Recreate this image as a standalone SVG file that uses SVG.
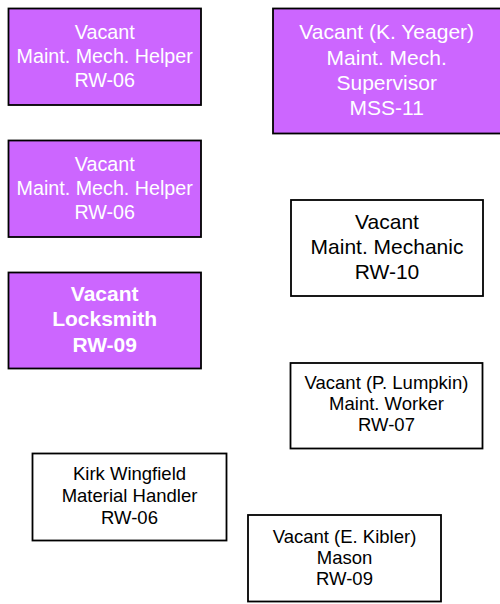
<svg xmlns="http://www.w3.org/2000/svg" width="500" height="604" viewBox="0 0 500 604">
<style>
.box{stroke:#000;stroke-width:1.8}
.p{fill:#CC66FF}
.w{fill:#FFFFFF}
text{font-family:"Liberation Sans",Arial,sans-serif;text-anchor:middle}
.tw{fill:#FFFFFF}
.tb{fill:#000000}
.b{font-weight:bold}
</style>
<rect width="500" height="604" fill="#FFFFFF"/>
<g id="connectors"></g>
<g id="helper1">
<rect class="box p" x="8.5" y="8.5" width="192.5" height="96.5"/>
<text class="tw" font-size="19.7"><tspan x="104.7" y="39.3">Vacant</tspan><tspan x="104.7" y="63">Maint. Mech. Helper</tspan><tspan x="104.7" y="87">RW-06</tspan></text>
</g>
<g id="helper2">
<rect class="box p" x="8.5" y="140.5" width="192.5" height="96.5"/>
<text class="tw" font-size="19.7"><tspan x="104.7" y="171.3">Vacant</tspan><tspan x="104.7" y="195">Maint. Mech. Helper</tspan><tspan x="104.7" y="219">RW-06</tspan></text>
</g>
<g id="locksmith">
<rect class="box p" x="8.5" y="272.5" width="192.5" height="96"/>
<text class="tw b" font-size="21"><tspan x="104.7" y="301.2">Vacant</tspan><tspan x="104.7" y="326.4">Locksmith</tspan><tspan x="104.7" y="351.7">RW-09</tspan></text>
</g>
<g id="supervisor">
<rect class="box p" x="273" y="8.5" width="232" height="125"/>
<text class="tw" font-size="21"><tspan x="386.7" y="39.3">Vacant (K. Yeager)</tspan><tspan x="386.7" y="64.5">Maint. Mech.</tspan><tspan x="386.7" y="89.8">Supervisor</tspan><tspan x="386.7" y="115">MSS-11</tspan></text>
</g>
<g id="mechanic">
<rect class="box w" x="291" y="200" width="192" height="96"/>
<text class="tb" font-size="21"><tspan x="387" y="229.3">Vacant</tspan><tspan x="387" y="254.3">Maint. Mechanic</tspan><tspan x="387" y="279">RW-10</tspan></text>
</g>
<g id="worker">
<rect class="box w" x="290.5" y="363" width="192" height="85.5"/>
<text class="tb" font-size="18.5"><tspan x="386.5" y="389">Vacant (P. Lumpkin)</tspan><tspan x="386.5" y="410">Maint. Worker</tspan><tspan x="386.5" y="431">RW-07</tspan></text>
</g>
<g id="handler">
<rect class="box w" x="32.5" y="453.5" width="194" height="87"/>
<text class="tb" font-size="18.5"><tspan x="129.5" y="480">Kirk Wingfield</tspan><tspan x="129.5" y="501.7">Material Handler</tspan><tspan x="129.5" y="523.5">RW-06</tspan></text>
</g>
<g id="mason">
<rect class="box w" x="248" y="515" width="193" height="86.5"/>
<text class="tb" font-size="18.5"><tspan x="344.5" y="542.7">Vacant (E. Kibler)</tspan><tspan x="344.5" y="564">Mason</tspan><tspan x="344.5" y="585.3">RW-09</tspan></text>
</g>
</svg>
